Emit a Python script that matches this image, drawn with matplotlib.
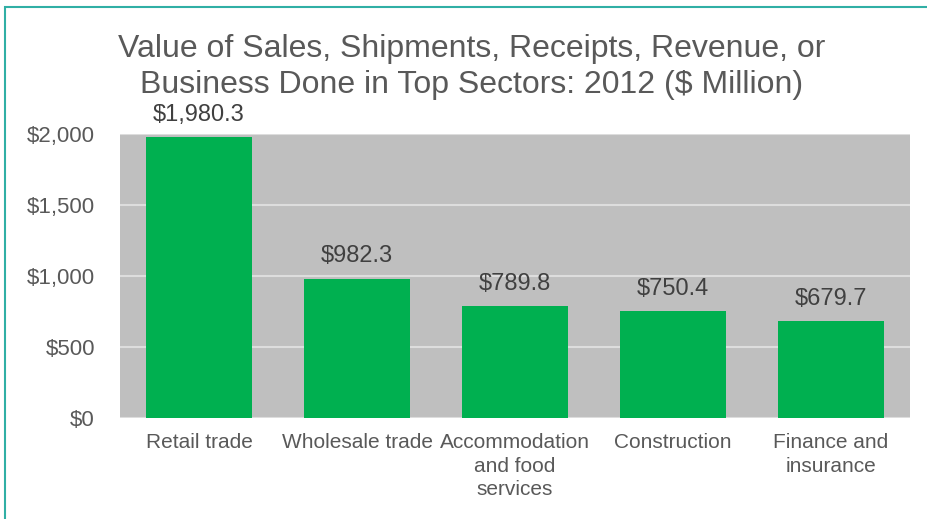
import numpy as np
import matplotlib.pyplot as plt
from matplotlib.patches import Rectangle

plt.rcParams['font.family'] = ['Liberation Sans', 'DejaVu Sans']

sectors = ['Retail trade', 'Wholesale trade', 'Accommodation\nand food\nservices',
           'Construction', 'Finance and\ninsurance']
sales = [1980.3, 982.3, 789.8, 750.4, 679.7]
yticks = [0, 500, 1000, 1500, 2000]

grey_text = '#595959'

fig = plt.figure(figsize=(9.27, 5.19), dpi=100)
ax = fig.add_axes([120/927, 1 - 418/519, 790/927, (418 - 134)/519])

x = np.arange(len(sectors))
ax.bar(x, sales, width=0.665, color='#00B050', zorder=3)
ax.set_facecolor('#BFBFBF')
ax.set_xlim(-0.5, len(sectors) - 0.5)
ax.set_ylim(0, 2000)
ax.set_yticks(yticks)
ax.set_yticklabels(['${:,}'.format(v) for v in yticks], fontsize=16, color=grey_text)
ax.set_xticks(x)
ax.set_xticklabels(sectors, fontsize=15, color=grey_text, linespacing=1.3)
ax.tick_params(length=0)
ax.tick_params(axis='y', pad=18)
ax.tick_params(axis='x', pad=11)
ax.grid(axis='y', color='#DDDDDD', linewidth=1.5, zorder=1)
for s in ax.spines.values():
    s.set_visible(False)

for xi, v in zip(x, sales):
    ax.annotate('${:,.1f}'.format(v), (xi, v), xytext=(0, 16), textcoords='offset points',
                ha='center', va='center', fontsize=17, color='#404040')

fig.text(472/927, 1 - 67/519, 'Value of Sales, Shipments, Receipts, Revenue, or\nBusiness Done in Top Sectors: 2012 ($ Million)',
         ha='center', va='center', fontsize=23, color=grey_text, linespacing=1.22)

# teal frame
fig.patches.append(Rectangle((5/927, -0.05), 1.0, 1 - 7/519 + 0.05, transform=fig.transFigure,
                             fill=False, edgecolor='#30AFA5', linewidth=1.5))

fig.savefig('out.png', dpi=100)
